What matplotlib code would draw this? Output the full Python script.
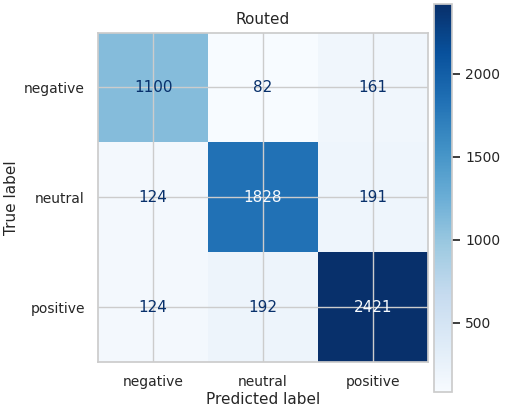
import matplotlib
matplotlib.use("Agg")
import matplotlib.pyplot as plt
import seaborn as sns
import numpy as np

sns.set_theme(style="whitegrid")
plt.rcParams.update({"xtick.labelsize": 10, "ytick.labelsize": 10, "axes.labelsize": 11})
labels = ["negative", "neutral", "positive"]
cm = np.array([[1100, 82, 161], [124, 1828, 191], [124, 192, 2421]])

fig = plt.figure(figsize=(5.15, 4.17), dpi=100)
ax = fig.add_axes([0.19, 0.132, 0.641, 0.79])
cax = fig.add_axes([0.842, 0.06, 0.036, 0.93])
cmap = plt.get_cmap("Blues")
im = ax.imshow(cm, cmap=cmap, interpolation="nearest")
cb = fig.colorbar(im, cax=cax)
cb.outline.set_edgecolor("#cccccc")
cb.ax.tick_params(labelsize=10)
thresh = (cm.max() + cm.min()) / 2
for i in range(3):
    for j in range(3):
        c = cmap(0.0) if cm[i, j] > thresh else cmap(1.0)
        ax.text(j, i, str(cm[i, j]), ha="center", va="center", color=c, fontsize=11)
ax.set_xticks(range(3), labels)
ax.set_yticks(range(3), labels)
ax.set_xlabel("Predicted label", labelpad=2)
ax.set_ylabel("True label")
ax.set_title("Routed", fontsize=11)
fig.savefig("out.png", dpi=100)
